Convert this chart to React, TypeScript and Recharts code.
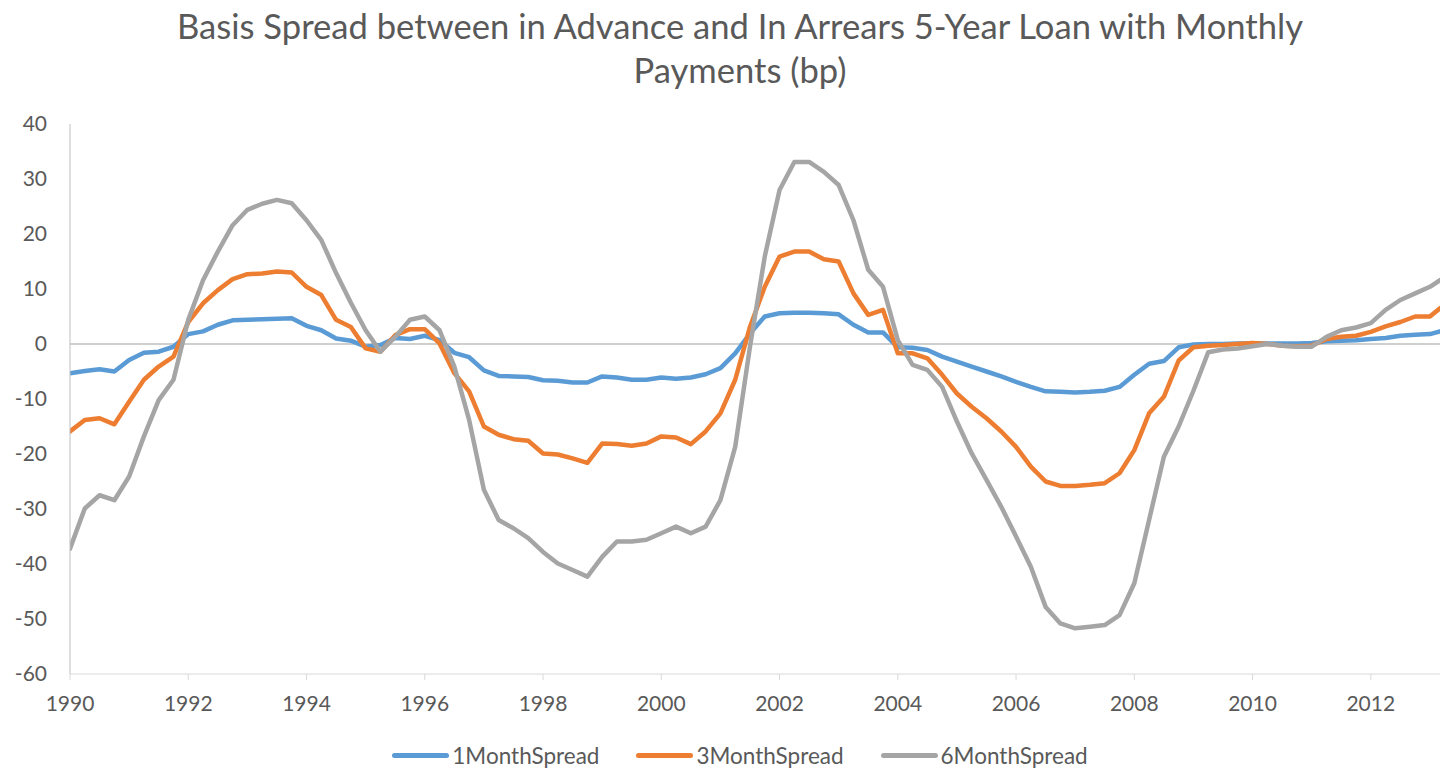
import React from "react";
import { LineChart, Line, XAxis, YAxis, ReferenceLine } from "recharts";

const years = [
  1990, 1990.25, 1990.5, 1990.75, 1991, 1991.25, 1991.5, 1991.75,
  1992, 1992.25, 1992.5, 1992.75, 1993, 1993.25, 1993.5, 1993.75,
  1994, 1994.25, 1994.5, 1994.75, 1995, 1995.25, 1995.5, 1995.75,
  1996, 1996.25, 1996.5, 1996.75, 1997, 1997.25, 1997.5, 1997.75,
  1998, 1998.25, 1998.5, 1998.75, 1999, 1999.25, 1999.5, 1999.75,
  2000, 2000.25, 2000.5, 2000.75, 2001, 2001.25, 2001.5, 2001.75,
  2002, 2002.25, 2002.5, 2002.75, 2003, 2003.25, 2003.5, 2003.75,
  2004, 2004.25, 2004.5, 2004.75, 2005, 2005.25, 2005.5, 2005.75,
  2006, 2006.25, 2006.5, 2006.75, 2007, 2007.25, 2007.5, 2007.75,
  2008, 2008.25, 2008.5, 2008.75, 2009, 2009.25, 2009.5, 2009.75,
  2010, 2010.25, 2010.5, 2010.75, 2011, 2011.25, 2011.5, 2011.75,
  2012, 2012.25, 2012.5, 2012.75, 2013, 2013.17,
];

const oneMonthSpread = [
  -5.3, -4.9, -4.6, -5.0, -2.9, -1.6, -1.4, -0.5,
  1.8, 2.3, 3.5, 4.3, 4.4, 4.5, 4.6, 4.7,
  3.3, 2.5, 1.0, 0.6, -0.5, -0.2, 1.1, 0.9,
  1.5, 0.7, -1.6, -2.4, -4.8, -5.8, -5.9, -6.0,
  -6.6, -6.7, -7.0, -7.0, -5.9, -6.1, -6.5, -6.5,
  -6.1, -6.3, -6.1, -5.5, -4.4, -1.7, 1.9, 5.0,
  5.6, 5.7, 5.7, 5.6, 5.4, 3.5, 2.1, 2.1,
  -0.6, -0.7, -1.1, -2.3, -3.2, -4.1, -5.0, -5.9,
  -6.9, -7.8, -8.6, -8.7, -8.8, -8.7, -8.5, -7.8,
  -5.6, -3.6, -3.1, -0.6, -0.1, 0, 0, 0.1,
  0.1, 0.1, 0.1, 0.1, 0.2, 0.5, 0.6, 0.7,
  0.9, 1.1, 1.5, 1.7, 1.8, 2.3,
];

const threeMonthSpread = [
  -15.9, -13.8, -13.5, -14.6, -10.5, -6.5, -4.1, -2.3,
  4.0, 7.4, 9.8, 11.8, 12.7, 12.8, 13.2, 13.0,
  10.4, 8.9, 4.4, 3.1, -0.8, -1.4, 1.6, 2.7,
  2.7, 0.1, -5.3, -8.6, -15.0, -16.5, -17.3, -17.6,
  -19.9, -20.1, -20.8, -21.6, -18.1, -18.2, -18.5, -18.1,
  -16.8, -17.0, -18.2, -15.9, -12.6, -6.5, 3.1, 10.4,
  15.9, 16.8, 16.8, 15.4, 15.0, 9.2, 5.3, 6.2,
  -1.7, -1.7, -2.6, -5.6, -9.0, -11.4, -13.5, -15.9,
  -18.7, -22.3, -25.0, -25.8, -25.8, -25.6, -25.3, -23.5,
  -19.3, -12.6, -9.6, -3.0, -0.6, -0.3, -0.2, 0,
  0.2, 0, -0.3, -0.4, -0.3, 0.9, 1.3, 1.5,
  2.2, 3.2, 4.0, 5.0, 5.0, 6.5,
];

const sixMonthSpread = [
  -37.2, -29.9, -27.5, -28.4, -24.1, -16.8, -10.2, -6.5,
  4.4, 11.6, 16.8, 21.6, 24.4, 25.5, 26.2, 25.6,
  22.5, 18.9, 12.9, 7.5, 2.5, -1.4, 1.3, 4.4,
  5.0, 2.5, -4.1, -13.8, -26.5, -32.0, -33.5, -35.3,
  -37.8, -39.9, -41.1, -42.3, -38.7, -35.9, -35.9, -35.6,
  -34.4, -33.2, -34.4, -33.2, -28.4, -18.7, -0.5, 15.9,
  28.0, 33.1, 33.1, 31.3, 28.9, 22.5, 13.5, 10.4,
  0.7, -3.8, -4.7, -7.8, -14.1, -19.9, -24.7, -29.6,
  -35.0, -40.5, -47.8, -50.8, -51.7, -51.4, -51.1, -49.3,
  -43.5, -32.0, -20.5, -15.0, -8.5, -1.5, -1.0, -0.8,
  -0.4, 0, -0.3, -0.5, -0.5, 1.3, 2.5, 3.0,
  3.8, 6.2, 8.0, 9.2, 10.4, 11.6,
];

const seriesKeys = ["s1", "s3", "s6"];
const seriesNames = ["1MonthSpread", "3MonthSpread", "6MonthSpread"];
const seriesColors = ["#5B9BD5", "#ED7D31", "#A5A5A5"];
const xTicks = [1990, 1992, 1994, 1996, 1998, 2000, 2002, 2004, 2006, 2008, 2010, 2012];
const yTicks = [-60, -50, -40, -30, -20, -10, 0, 10, 20, 30, 40];
const titleLines = [
  "Basis Spread between in Advance and In Arrears 5-Year Loan with Monthly",
  "Payments (bp)",
];

const data = years.map((year, i) => ({
  year,
  s1: oneMonthSpread[i],
  s3: threeMonthSpread[i],
  s6: sixMonthSpread[i],
}));

const FONT = "Lato, 'Open Sans', sans-serif";
const TEXT = "#595959";

export default function App() {
  return (
    <div
      style={{
        position: "absolute",
        left: 0,
        top: 0,
        width: 1440,
        height: 771,
        background: "#fff",
        fontFamily: FONT,
        overflow: "hidden",
      }}
    >
      <div
        style={{
          position: "absolute",
          left: 20,
          top: 4,
          width: 1440,
          textAlign: "center",
          color: TEXT,
          fontSize: 34.6,
          lineHeight: "44px",
        }}
      >
        {titleLines.map((t) => (
          <div key={t}>{t}</div>
        ))}
      </div>
      <LineChart
        width={1440}
        height={771}
        data={data}
        margin={{ top: 124, right: 0, bottom: 0, left: 0 }}
      >
        <XAxis
          dataKey="year"
          type="number"
          domain={[1990, 2013.17]}
          allowDataOverflow
          ticks={xTicks}
          height={97}
          stroke="#d9d9d9"
          tickSize={6}
          tickMargin={16}
          tick={{ fill: TEXT, fontSize: 21, fontFamily: FONT }}
        />
        <YAxis
          type="number"
          domain={[-60, 40]}
          ticks={yTicks}
          width={70}
          stroke="#bfbfbf"
          tickLine={false}
          tickSize={0}
          tickMargin={23}
          tick={{ fill: TEXT, fontSize: 21, fontFamily: FONT }}
        />
        <ReferenceLine y={0} stroke="#bfbfbf" strokeWidth={1.5} />
        {seriesKeys.map((k, i) => (
          <Line
            key={k}
            dataKey={k}
            name={seriesNames[i]}
            type="linear"
            stroke={seriesColors[i]}
            strokeWidth={4.5}
            strokeLinejoin="round"
            strokeLinecap="round"
            dot={false}
            activeDot={false}
            isAnimationActive={false}
          />
        ))}
      </LineChart>
      <div
        style={{
          position: "absolute",
          left: 20,
          top: 742,
          width: 1440,
          display: "flex",
          justifyContent: "center",
          alignItems: "center",
          color: TEXT,
          fontSize: 22.5,
        }}
      >
        {seriesNames.map((n, i) => (
          <div
            key={n}
            style={{
              display: "flex",
              alignItems: "center",
              marginRight: i < seriesNames.length - 1 ? 37 : 0,
            }}
          >
            <div
              style={{
                width: 57,
                height: 5,
                borderRadius: 3,
                background: seriesColors[i],
                marginRight: 3,
              }}
            />
            <span>{n}</span>
          </div>
        ))}
      </div>
    </div>
  );
}
